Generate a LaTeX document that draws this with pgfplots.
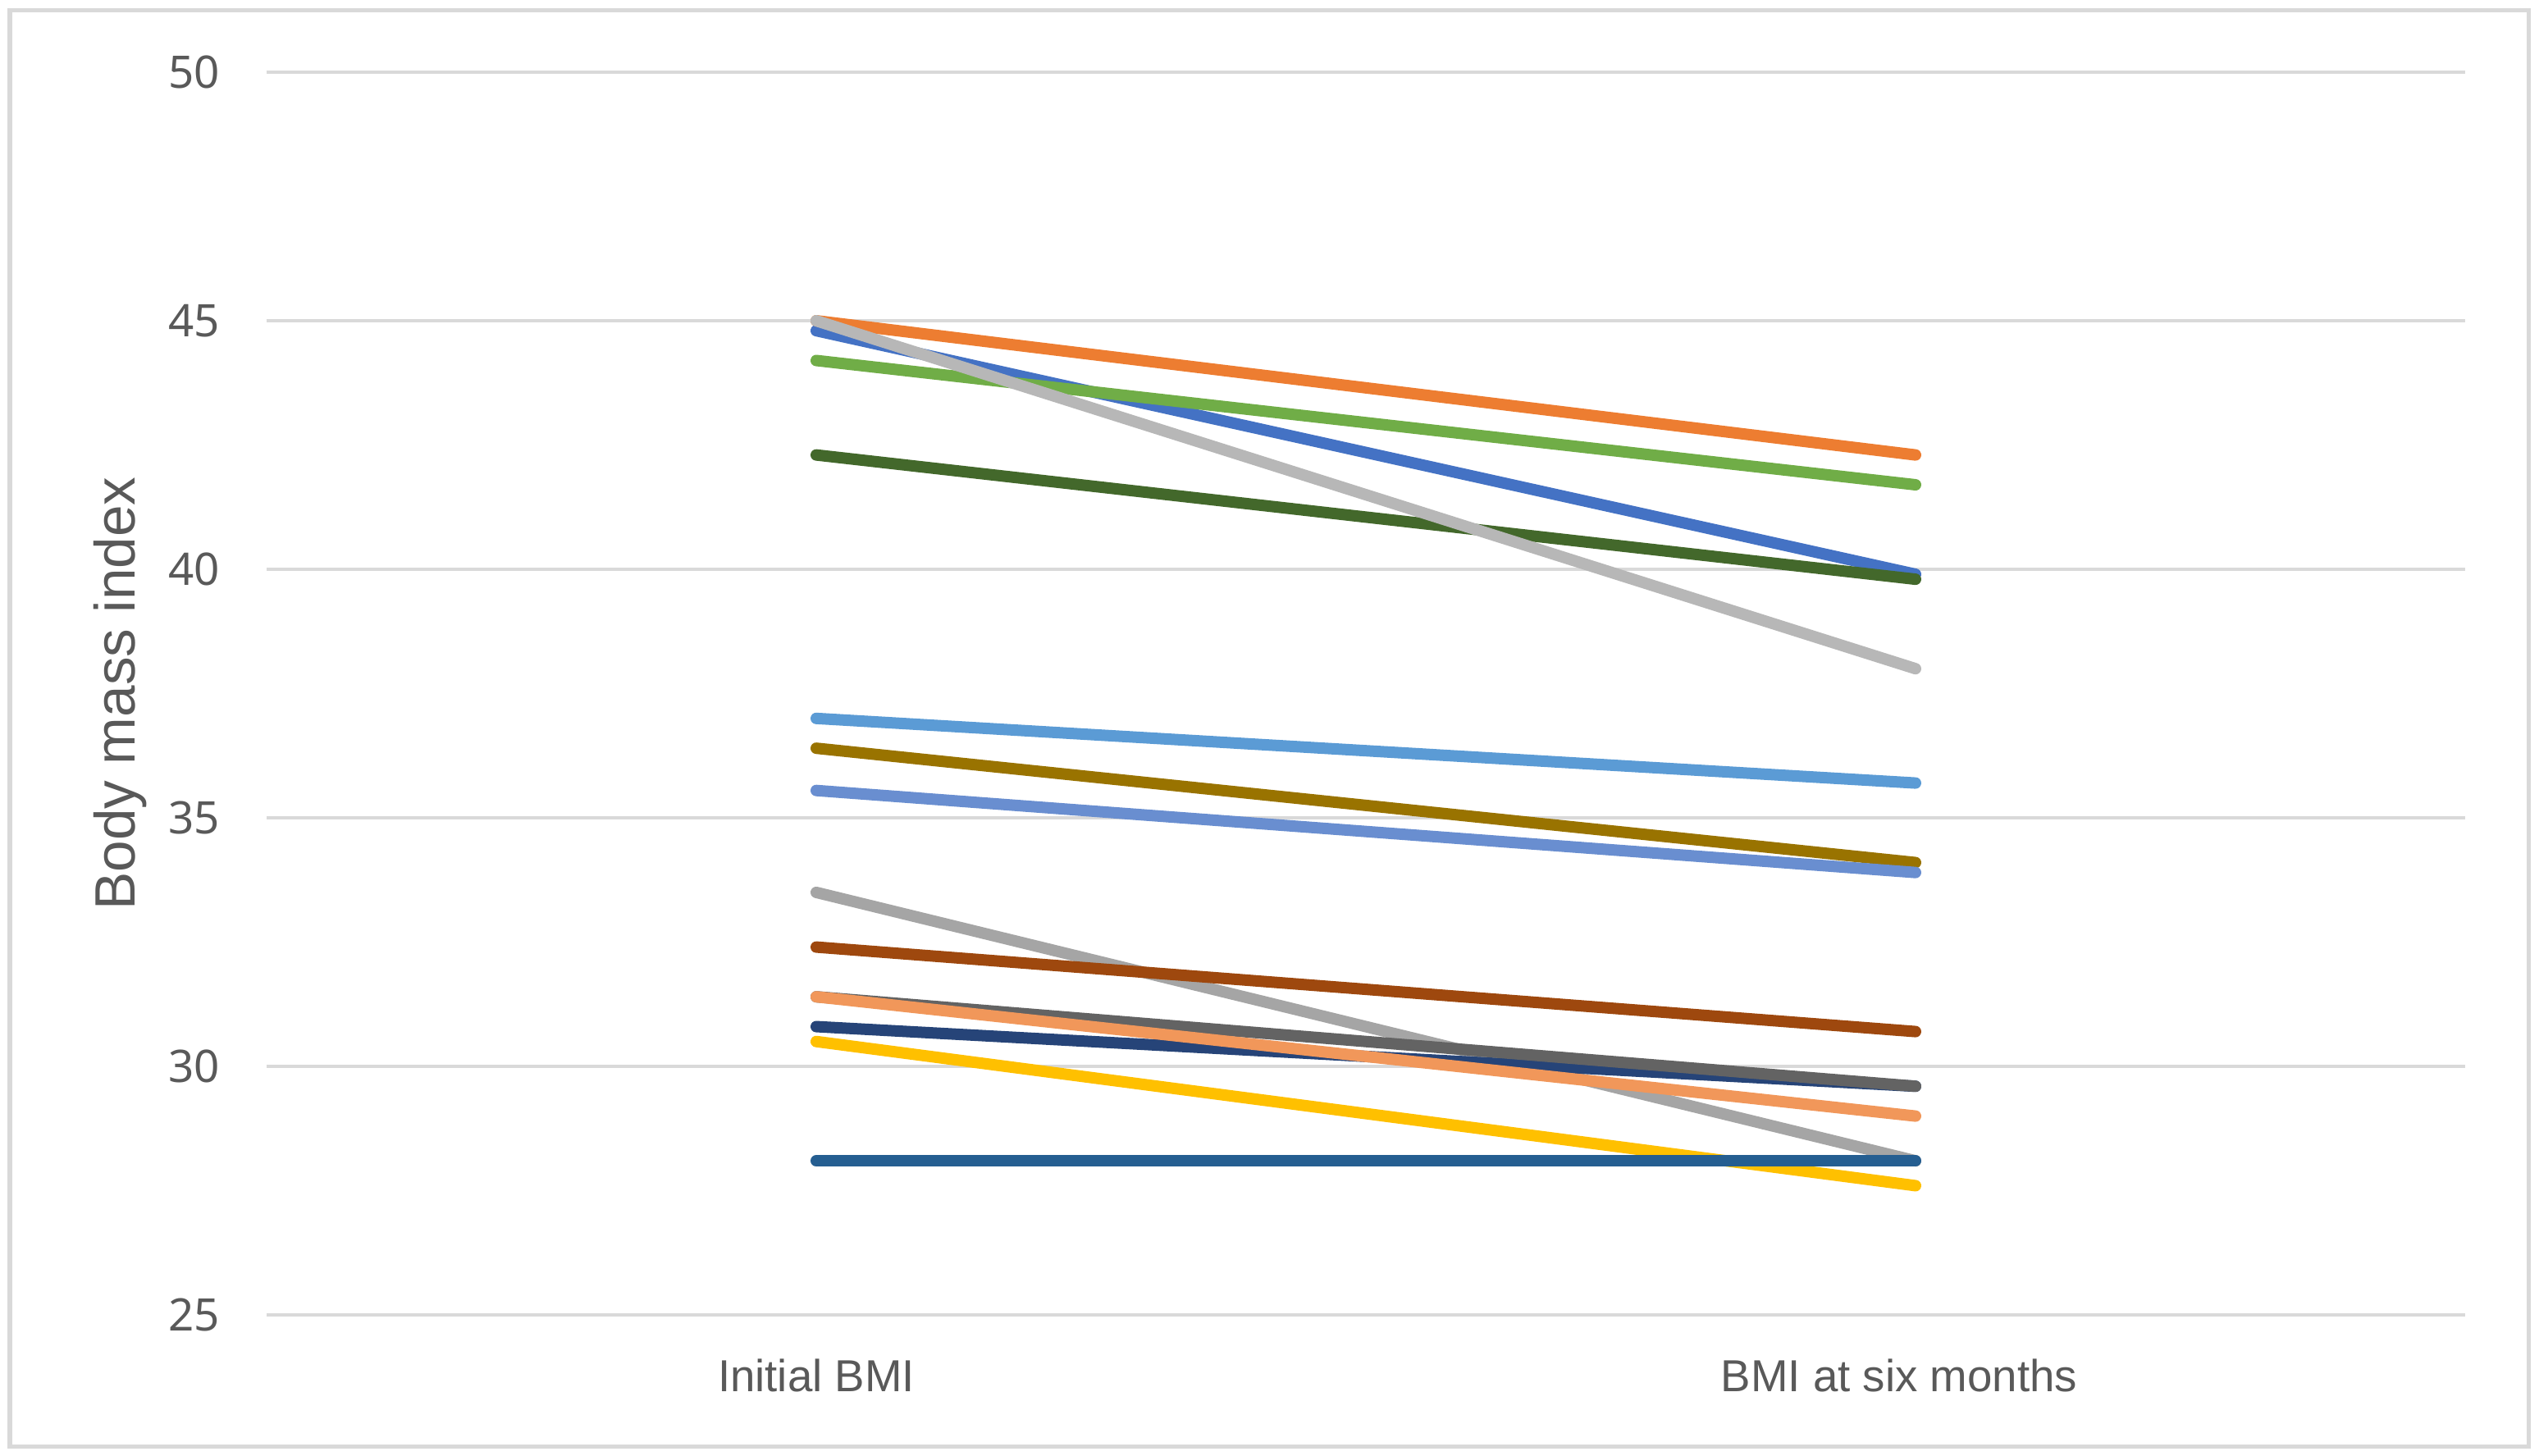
\documentclass[border=0pt]{standalone}
\usepackage{pgfplots}
\pgfplotsset{compat=1.18}
\usepackage{fontspec}
\setmainfont{Liberation Sans}
\newfontfamily\tickfont{Noto Sans}
\definecolor{c1}{HTML}{4472C4}
\definecolor{c2}{HTML}{ED7D31}
\definecolor{c3}{HTML}{A5A5A5}
\definecolor{c4}{HTML}{FFC000}
\definecolor{c5}{HTML}{5B9BD5}
\definecolor{c6}{HTML}{70AD47}
\definecolor{c7}{HTML}{264478}
\definecolor{c8}{HTML}{9E480E}
\definecolor{c9}{HTML}{636363}
\definecolor{c10}{HTML}{997300}
\definecolor{c11}{HTML}{255E91}
\definecolor{c12}{HTML}{43682B}
\definecolor{c13}{HTML}{698ED0}
\definecolor{c14}{HTML}{F1975A}
\definecolor{c15}{HTML}{B7B7B7}
\definecolor{gridc}{HTML}{D9D9D9}
\definecolor{txt}{HTML}{595959}
\begin{document}
\begin{tikzpicture}
\useasboundingbox (0,0) rectangle (464.25pt,266.1pt);
\draw[gridc, line width=0.75pt] (1.8pt,1.65pt) rectangle (462.3pt,264.3pt);
\begin{axis}[
  at={(48.75pt,25.65pt)}, anchor=south west,
  width=402pt, height=227.25pt, scale only axis,
  xmin=-0.5, xmax=1.5, ymin=25, ymax=50,
  xtick={0,1}, xticklabels={Initial BMI, BMI at six months\hspace*{6pt}},
  ytick={25,30,35,40,45,50},
  axis line style={draw=none},
  major tick length=0pt,
  tick style={draw=none},
  ymajorgrids, grid style={gridc, line width=0.6pt},
  yticklabel style={font=\tickfont\fontsize{8.2}{10}\selectfont, text=txt, xshift=-5pt},
  xticklabel style={font=\fontsize{8.2}{10}\selectfont, text=txt, yshift=-4.5pt},
  /pgf/number format/assume math mode=true,
  ylabel={Body mass index},
  every axis y label/.style={at={(axis description cs:-0.0665,0.50)}, rotate=90, anchor=center, font=\fontsize{10.4}{12}\selectfont, text=txt},
  every axis plot/.append style={line width=2.1pt, line cap=round, mark=none},
  clip=false,
]
\addplot[c1] coordinates {(0,44.8) (1,39.9)};
\addplot[c2] coordinates {(0,45.0) (1,42.3)};
\addplot[c3] coordinates {(0,33.5) (1,28.1)};
\addplot[c4] coordinates {(0,30.5) (1,27.6)};
\addplot[c5] coordinates {(0,37.0) (1,35.7)};
\addplot[c6] coordinates {(0,44.2) (1,41.7)};
\addplot[c7] coordinates {(0,30.8) (1,29.6)};
\addplot[c8] coordinates {(0,32.4) (1,30.7)};
\addplot[c9] coordinates {(0,31.4) (1,29.6)};
\addplot[c10] coordinates {(0,36.4) (1,34.1)};
\addplot[c11] coordinates {(0,28.1) (1,28.1)};
\addplot[c12] coordinates {(0,42.3) (1,39.8)};
\addplot[c13] coordinates {(0,35.55) (1,33.9)};
\addplot[c14] coordinates {(0,31.4) (1,29.0)};
\addplot[c15] coordinates {(0,45.0) (1,38.0)};
\end{axis}
\end{tikzpicture}
\end{document}
